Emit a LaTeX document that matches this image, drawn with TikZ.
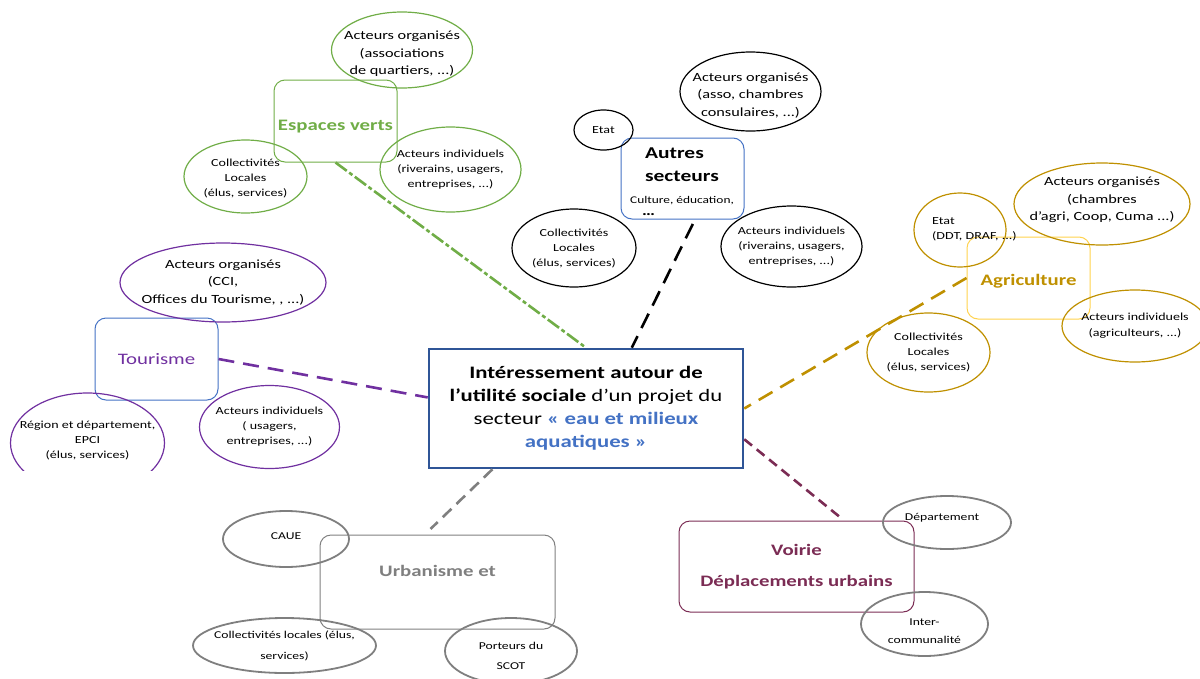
\documentclass[tikz,border=0pt]{standalone}
\usepackage{fontspec}
\setmainfont{Carlito}[FakeStretch=1.3]
\usetikzlibrary{shapes.geometric}
\definecolor{vert}{HTML}{70AD47}
\definecolor{bleu}{HTML}{4472C4}
\definecolor{bleufonce}{HTML}{2F5597}
\definecolor{or}{HTML}{BF9000}
\definecolor{orclair}{HTML}{FFD24D}
\definecolor{violet}{HTML}{7030A0}
\definecolor{gris}{HTML}{7F7F7F}
\definecolor{bordeaux}{HTML}{7B2C54}
\newcommand{\fsz}[2]{\fontsize{#1}{#2}\selectfont}
\tikzset{
  secteur/.style={rectangle, rounded corners=11pt, line width=1pt, align=center, inner sep=0pt},
  acteur/.style={ellipse, line width=1.2pt, inner sep=0pt},
  lien/.style={line width=2.6pt, dash pattern=on 16pt off 9pt},
  petit/.style={font=\fsz{10.8}{15}, align=center},
  moyen/.style={font=\fsz{12.5}{17.5}, align=center},
  mini/.style={font=\fsz{10.5}{20}, align=center},
}
\begin{document}
\begin{tikzpicture}[x=1pt,y=-1pt]
\useasboundingbox (0,0) rectangle (1200,678);
% projet au centre
\node[draw=bleufonce, line width=2.5pt, minimum width=314, minimum height=119, align=center, font=\fsz{17.5}{23}] (projet) at (586,408.5)
  {\textbf{Intéressement autour de}\\\textbf{l’utilité sociale} d’un projet du\\secteur \textcolor{bleu}{\textbf{« eau et milieux}}\\\textcolor{bleu}{\textbf{aquatiques »}}};
% espaces verts
\node[secteur, draw=vert, minimum width=123, minimum height=82, text=vert, text height=21pt, font=\bfseries\fsz{16}{20}] (ev) at (335.5,121) {Espaces verts};
\node[acteur, draw=vert, minimum width=141, minimum height=76, label={[moyen, yshift=-4pt]center:Acteurs organisés\\(associations\\de quartiers, ...)}] (ev-org) at (402,50) {};
\node[acteur, draw=vert, minimum width=123, minimum height=73, label={[petit, yshift=-2pt]center:Collectivités\\Locales\\(élus, services)}] (ev-col) at (245.5,176.5) {};
\node[acteur, draw=vert, minimum width=141, minimum height=85, label={[petit]center:Acteurs individuels\\(riverains, usagers,\\entreprises, ...)}] (ev-ind) at (450.5,169.5) {};
% autres secteurs
\node[secteur, draw=bleu, minimum width=123, minimum height=81,
  label={[align=left, font=\fsz{10.3}{23}, yshift=-3pt]center:\fsz{16.5}{23}\bfseries\hspace*{14pt}Autres\\\fsz{16.5}{23}\bfseries\hspace*{14pt}secteurs\\[-1pt]\hspace*{-1pt}Culture, éducation,\\[-11pt]\fsz{14}{12}\bfseries\hspace*{11pt}…}] (as) at (682.5,178.5) {};
\node[acteur, draw=black, minimum width=59, minimum height=40, label={[petit]center:Etat}] (as-etat) at (603.5,130) {};
\node[acteur, draw=black, minimum width=141, minimum height=79, label={[moyen, yshift=-4pt]center:Acteurs organisés\\(asso, chambres\\consulaires, ...)}] (as-org) at (750.5,91.5) {};
\node[acteur, draw=black, minimum width=124, minimum height=78, label={[petit]center:Collectivités\\Locales\\(élus, services)}] (as-col) at (574,248) {};
\node[acteur, draw=black, minimum width=141, minimum height=81, label={[petit]center:Acteurs individuels\\(riverains, usagers,\\entreprises, ...)}] (as-ind) at (791.5,246.5) {};
% agriculture
\node[secteur, draw=orclair, minimum width=123, minimum height=82, text=or, text height=17pt, font=\bfseries\fsz{16}{20}] (ag) at (1028.5,278) {Agriculture};
\node[acteur, draw=or, minimum width=92, minimum height=74] (ag-etat) at (960,230) {};
\node[anchor=west, align=left, inner sep=0pt, font=\fsz{10.8}{15}] (ag-etat-t) at (932,229) {Etat\\(DDT, DRAF, ...)};
\node[acteur, draw=or, minimum width=176, minimum height=82, label={[moyen, yshift=4pt]center:Acteurs organisés\\(chambres\\d’agri, Coop, Cuma ...)}] (ag-org) at (1102,204) {};
\node[acteur, draw=or, minimum width=146, minimum height=72, label={[petit, font=\fsz{10.8}{16}]center:Acteurs individuels\\(agriculteurs, ...)}] (ag-ind) at (1135,326) {};
\node[acteur, draw=or, minimum width=123, minimum height=79, label={[petit]center:Collectivités\\Locales\\(élus, services)}] (ag-col) at (928.5,352.5) {};
% tourisme
\node[secteur, draw=bleu, minimum width=123, minimum height=82, text=violet, font=\fsz{16}{20}] (to) at (156.5,359) {Tourisme};
\node[acteur, draw=violet, minimum width=206, minimum height=79, label={[moyen]center:Acteurs organisés\\(CCI,\\Offices du Tourisme, , ...)}] (to-org) at (223,282.5) {};
\begin{scope}
\clip (0,0) rectangle (1200,470);
\node[acteur, draw=violet, minimum width=154, minimum height=100, label={[petit, yshift=3pt]center:Région et département,\\EPCI\\(élus, services)}] (to-reg) at (87.5,443) {};
\node[acteur, draw=violet, minimum width=140, minimum height=83, label={[petit]center:Acteurs individuels\\( usagers,\\entreprises, ...)}] (to-ind) at (269.5,427) {};
\end{scope}
% urbanisme
\node[secteur, draw=gris, minimum width=235, minimum height=94, text=gris, font=\bfseries\fsz{16}{23}] (ur) at (437.5,582) {Urbanisme et\\\mbox{}};
\node[acteur, draw=gris, line width=1.8pt, minimum width=126, minimum height=56, label={[mini, yshift=3pt]center:CAUE}] (ur-caue) at (286,539) {};
\node[acteur, draw=gris, line width=1.8pt, minimum width=183, minimum height=55, label={[mini, font=\fsz{10.5}{21}]center:Collectivités locales (élus,\\services)}] (ur-col) at (284.5,645.5) {};
\node[acteur, draw=gris, line width=1.8pt, minimum width=132, minimum height=66, label={[mini, yshift=-5pt]center:Porteurs du\\SCOT}] (ur-scot) at (511,651) {};
% voirie
\node[secteur, draw=bordeaux, minimum width=235, minimum height=91, text=bordeaux, font=\bfseries\fsz{16}{31}] (vo) at (796.5,566.5) {Voirie\\Déplacements urbains};
\node[acteur, draw=gris, line width=1.8pt, minimum width=128, minimum height=53, label={[mini, xshift=-5pt, yshift=5pt]center:Département}] (vo-dep) at (947,522.5) {};
\node[acteur, draw=gris, line width=1.8pt, minimum width=127, minimum height=64, label={[mini, font=\fsz{10.5}{18}, yshift=-7pt]center:Inter-\\communalité}] (vo-inter) at (924.5,624) {};
% liens
\draw[lien, draw=vert, dash pattern=on 14pt off 3pt on 4pt off 3pt] (ev.south) -- (projet.north);
\draw[lien, draw=black, shorten <=5pt] (as.-73) -- (projet.53);
\draw[lien, draw=or] (ag.west) -- (projet.east);
\draw[lien, draw=violet] (to.east) -- (projet.176);
\draw[lien, draw=gris, dash pattern=on 12pt off 7pt, shorten >=8pt] (projet.213) -- (ur.105);
\draw[lien, draw=bordeaux, dash pattern=on 10pt off 6pt, shorten >=4pt] (projet.349) -- (vo.44);
\end{tikzpicture}
\end{document}
